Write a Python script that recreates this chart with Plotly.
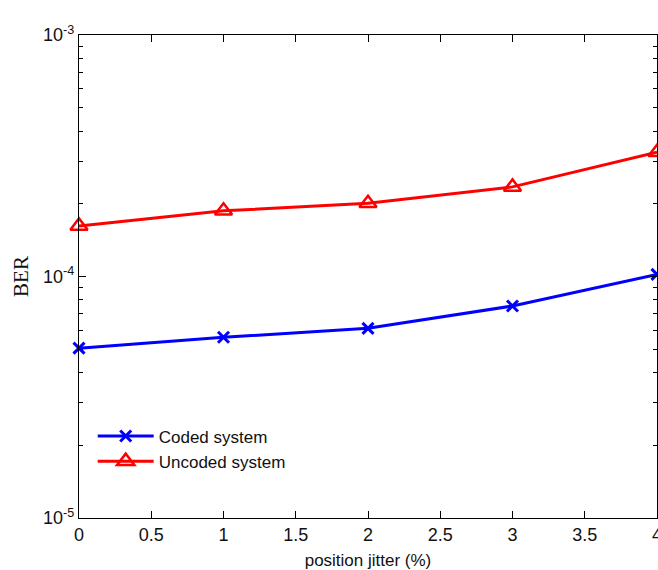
import plotly.graph_objects as go

jitter = [0, 1, 2, 3, 4]
coded = [5.05e-5, 5.6e-5, 6.1e-5, 7.55e-5, 1.02e-4]
uncoded = [1.62e-4, 1.87e-4, 2.01e-4, 2.35e-4, 3.27e-4]
x_ticks = [0, 0.5, 1, 1.5, 2, 2.5, 3, 3.5, 4]
x_labels = ["0", "0.5", "1", "1.5", "2", "2.5", "3", "3.5", "4"]
y_ticks = [1e-5, 1e-4, 1e-3]
y_labels = ["10<sup>-5</sup>", "10<sup>-4</sup>", "10<sup>-3</sup>"]
minor_y = [m * 10 ** e for e in (-5, -4) for m in range(2, 10)]

fig = go.Figure()
fig.add_trace(go.Scatter(
    x=jitter, y=coded, mode="lines+markers", name="Coded system",
    line=dict(color="#0000ff", width=3),
    marker=dict(symbol="x-thin", size=11, line=dict(color="#0000ff", width=3)),
    cliponaxis=False,
))
fig.add_trace(go.Scatter(
    x=jitter, y=uncoded, mode="lines+markers", name="Uncoded system",
    line=dict(color="#ff0000", width=3),
    marker=dict(symbol="triangle-up-open", size=15, color="#ff0000", line=dict(color="#ff0000", width=2.5)),
    cliponaxis=False,
))

axis_common = dict(
    showgrid=False, zeroline=False, showline=True, linecolor="black", linewidth=1.3,
    mirror="ticks", ticks="inside", tickcolor="black", tickwidth=1,
    tickfont=dict(family="Liberation Sans, Arial", size=18, color="#111"),
    ticklabeloverflow="allow", automargin=False,
)

fig.update_xaxes(
    **axis_common, range=[0, 4], tickmode="array", tickvals=x_ticks, ticktext=x_labels, ticklen=7,
    title=dict(text="position jitter (%)", font=dict(family="Liberation Sans, Arial", size=17, color="#111"), standoff=10),
)
fig.update_yaxes(
    **axis_common, type="log", range=[-5, -3], tickmode="array", tickvals=y_ticks, ticktext=y_labels, ticklen=7,
    minor=dict(tickmode="array", tickvals=minor_y, ticks="inside", ticklen=4, tickcolor="black", tickwidth=1),
    title=dict(text="BER", font=dict(family="Liberation Serif, Times New Roman", size=21, color="#111"), standoff=8),
)

fig.update_layout(
    width=658, height=570,
    margin=dict(l=79, r=1, t=35, b=52, autoexpand=False),
    paper_bgcolor="white", plot_bgcolor="white",
    showlegend=True,
    legend=dict(x=0.0237, y=0.206, xanchor="left", yanchor="top", bgcolor="rgba(0,0,0,0)",
                font=dict(family="Liberation Sans, Arial", size=17, color="#111"), tracegroupgap=0,
                itemwidth=56),
)

fig.write_html("out.html")
